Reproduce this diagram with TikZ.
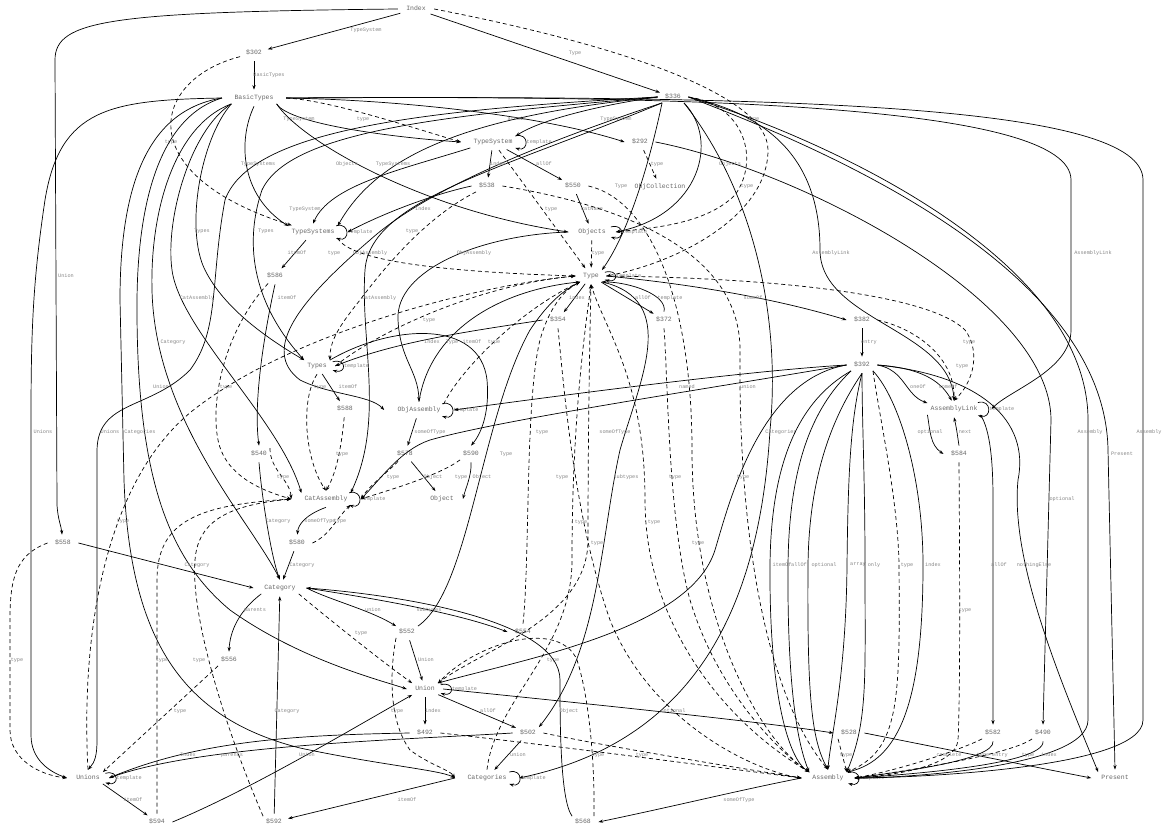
\documentclass[tikz,border=0pt]{standalone}
\usepackage{fontspec}
\setmonofont{Liberation Mono}
\usepackage{tikz}
\usetikzlibrary{arrows.meta,shapes.geometric}
\definecolor{nodetxt}{RGB}{105,105,105}
\definecolor{lbltxt}{RGB}{135,135,135}

\begin{document}
\begin{tikzpicture}[x=1pt,y=-1pt,
  nd/.style={ellipse,inner xsep=3pt,inner ysep=2.5pt,text height=5pt,text depth=1.5pt,
    text=nodetxt,font=\fontsize{6.5}{7}\selectfont\ttfamily},
  lbl/.style={inner sep=0.5pt,text=lbltxt,font=\fontsize{5.2}{6}\selectfont\ttfamily},
  fld/.style={-{Stealth[length=4.5pt,width=3.2pt]},line width=0.7pt},
  tyl/.style={fld,dash pattern=on 4pt off 3pt}]

\fill[white] (0,0) rectangle (1166,826);
\useasboundingbox (0,0) rectangle (1166,826);

% nodes, rank by rank
\node[nd] (Index) at (416,9) {Index};
\node[nd] (r302) at (254,53) {\$302};
\node[nd] (BasicTypes) at (254,98) {BasicTypes};
\node[nd] (r336) at (673,97) {\$336};
\node[nd] (TypeSystem) at (493,142) {TypeSystem};
\node[nd] (r292) at (640,142) {\$292};
\node[nd] (ObjCollection) at (660,187) {ObjCollection};
\node[nd] (r538) at (487,186) {\$538};
\node[nd] (r550) at (573,186) {\$550};
\node[nd] (TypeSystems) at (313,232) {TypeSystems};
\node[nd] (Objects) at (592,232) {Objects};
\node[nd] (r586) at (275,276) {\$586};
\node[nd] (Type) at (591,276) {Type};
\node[nd] (r354) at (558,320) {\$354};
\node[nd] (r372) at (664,320) {\$372};
\node[nd] (r382) at (862,320) {\$382};
\node[nd] (Types) at (317,366) {Types};
\node[nd] (r392) at (862,365) {\$392};
\node[nd] (r588) at (345,409) {\$588};
\node[nd] (ObjAssembly) at (419,410) {ObjAssembly};
\node[nd] (AssemblyLink) at (954,409) {AssemblyLink};
\node[nd] (r540) at (259,454) {\$540};
\node[nd] (r578) at (405,454) {\$578};
\node[nd] (r590) at (471,454) {\$590};
\node[nd] (r584) at (959,454) {\$584};
\node[nd] (CatAssembly) at (326,499) {CatAssembly};
\node[nd] (Object) at (442,499) {Object};
\node[nd] (r558) at (63,543) {\$558};
\node[nd] (r580) at (297,543) {\$580};
\node[nd] (Category) at (280,588) {Category};
\node[nd] (r552) at (407,632) {\$552};
\node[nd] (r554) at (523,632) {\$554};
\node[nd] (r556) at (229,660) {\$556};
\node[nd] (Union) at (425,689) {Union};
\node[nd] (r492) at (425,733) {\$492};
\node[nd] (r502) at (528,733) {\$502};
\node[nd] (r528) at (849,733) {\$528};
\node[nd] (r582) at (993,733) {\$582};
\node[nd] (r490) at (1043,733) {\$490};
\node[nd] (Unions) at (88,778) {Unions};
\node[nd] (Categories) at (487,778) {Categories};
\node[nd] (Assembly) at (828,778) {Assembly};
\node[nd] (Present) at (1115,778) {Present};
\node[nd] (r594) at (157,822) {\$594};
\node[nd] (r592) at (274,822) {\$592};
\node[nd] (r568) at (583,822) {\$568};

% template loops
\foreach \n in {TypeSystem,TypeSystems,Objects,Type,Types,ObjAssembly,AssemblyLink,CatAssembly,Union,Unions,Categories,Assembly}
  \draw[fld] (\n.15) .. controls +(14,-4) and +(14,4) .. (\n.345) node[lbl,pos=.5,anchor=west] {template};

% Index
\draw[fld] (Index) -- (r302) node[lbl] at (366,30) {TypeSystem};
\draw[fld] (Index) -- (r336) node[lbl] at (575,53) {Type};
\draw[fld] (Index.west) .. controls (110,12) and (55,20) .. (55,60) -- (57,505) .. controls (58,520) and (61,525) .. (r558) node[lbl] at (66,276) {Union};
\draw[tyl] (Index.east) .. controls (620,45) and (768,95) .. (768,150) .. controls (768,215) and (680,262) .. (Type.east) node[lbl] at (753,119) {type};

% $302 and BasicTypes
\draw[fld] (r302) -- (BasicTypes) node[lbl] at (269,75) {BasicTypes};
\draw[tyl] (r302) .. controls (150,80) and (130,175) .. (TypeSystems) node[lbl] at (171,142) {type};
\draw[fld] (BasicTypes.south east) .. controls (290,125) and (400,138) .. (TypeSystem.west) node[lbl] at (299,119) {TypeSystem};
\draw[tyl] (BasicTypes.east) .. controls (330,100) and (420,130) .. (TypeSystem.west) node[lbl] at (363,119) {type};
\draw[fld] (BasicTypes.east) .. controls (400,100) and (540,115) .. (r292.west) node[lbl] at (517,119) {atomic};
\draw[fld] (BasicTypes.south) .. controls (238,140) and (240,195) .. (TypeSystems.north west) node[lbl] at (258,164) {TypeSystems};
\draw[fld] (BasicTypes.south east) .. controls (300,140) and (420,210) .. (Objects.west) node[lbl] at (347,164) {Objects};
\draw[fld] (BasicTypes.south west) .. controls (200,140) and (185,230) .. (205,270) .. controls (225,310) and (270,340) .. (Types.north west) node[lbl] at (202,231) {Types};
\draw[fld] (BasicTypes.south west) .. controls (190,130) and (165,220) .. (172,270) .. controls (180,330) and (280,420) .. (CatAssembly.north west) node[lbl] at (197,298) {CatAssembly};
\draw[fld] (BasicTypes.south west) .. controls (175,125) and (150,210) .. (152,290) .. controls (155,420) and (250,520) .. (Category.north) node[lbl] at (173,342) {Category};
\draw[fld] (BasicTypes.west) .. controls (165,115) and (138,190) .. (137,300) .. controls (136,480) and (170,560) .. (230,610) .. controls (300,660) and (380,680) .. (Union.west) node[lbl] at (161,387) {Union};
\draw[fld] (BasicTypes.west) .. controls (150,110) and (120,180) .. (120,300) -- (124,480) .. controls (130,650) and (190,720) .. (300,748) .. controls (380,765) and (440,770) .. (Categories.west) node[lbl] at (140,432) {Categories};
\draw[fld] (BasicTypes.west) .. controls (110,100) and (60,108) .. (45,200) .. controls (33,280) and (31,330) .. (31,420) -- (31,735) .. controls (31,760) and (50,772) .. (Unions.west) node[lbl] at (43,432) {Unions};
\draw[fld] (BasicTypes.east) .. controls (700,95) and (1071,105) .. (1071,180) -- (1071,330) .. controls (1071,370) and (1010,390) .. (AssemblyLink.east) node[lbl] at (1093,253) {AssemblyLink};
\draw[fld] (BasicTypes.east) .. controls (800,95) and (1143,105) .. (1143,180) -- (1143,720) .. controls (1143,770) and (900,778) .. (Assembly.east) node[lbl] at (1149,432) {Assembly};

% $336
\draw[fld] (r336.west) .. controls (600,105) and (540,120) .. (TypeSystem.north east) node[lbl] at (616,119) {TypeSystem};
\draw[fld] (r336.west) .. controls (480,115) and (380,150) .. (TypeSystems.north east) node[lbl] at (393,164) {TypeSystems};
\draw[fld] (r336.west) .. controls (450,115) and (290,130) .. (262,190) .. controls (245,240) and (250,300) .. (Types.north west) node[lbl] at (266,231) {Types};
\draw[fld] (r336.south east) .. controls (720,140) and (700,215) .. (Objects.east) node[lbl] at (730,164) {Objects};
\draw[fld] (r336.south west) .. controls (650,160) and (630,230) .. (Type.north east) node[lbl] at (621,186) {Type};
\draw[fld] (r336.south west) .. controls (520,150) and (420,195) .. (370,240) .. controls (300,300) and (260,350) .. (300,380) .. controls (330,395) and (370,395) .. (ObjAssembly.west) node[lbl] at (370,253) {ObjAssembly};
\draw[fld] (r336.south west) .. controls (500,170) and (370,200) .. (365,270) .. controls (360,340) and (385,420) .. (CatAssembly.north east) node[lbl] at (379,298) {CatAssembly};
\draw[fld] (r336.west) .. controls (420,110) and (250,130) .. (225,200) .. controls (210,280) and (220,330) .. (190,370) .. controls (150,410) and (98,400) .. (97,450) -- (97,740) .. controls (97,755) and (95,762) .. (Unions.north) node[lbl] at (110,432) {Unions};
\draw[fld] (r336.south east) .. controls (760,200) and (780,330) .. (770,430) .. controls (760,600) and (700,740) .. (Categories.east) node[lbl] at (781,432) {Categories};
\draw[fld] (r336.east) .. controls (770,115) and (820,160) .. (820,250) .. controls (820,320) and (950,330) .. (AssemblyLink.north) node[lbl] at (831,253) {AssemblyLink};
\draw[fld] (r336.east) .. controls (800,130) and (1088,250) .. (1088,420) -- (1088,720) .. controls (1088,768) and (900,778) .. (Assembly.east) node[lbl] at (1090,432) {Assembly};
\draw[fld] (r336.east) .. controls (800,140) and (1105,260) .. (1108,450) -- (Present.north) node[lbl] at (1122,454) {Present};
\draw[tyl] (r336.east) .. controls (745,105) and (760,160) .. (735,195) .. controls (705,225) and (650,228) .. (Objects.east) node[lbl] at (747,186) {type};

% TypeSystem, $292, $538, $550
\draw[fld] (TypeSystem) -- (r538) node[lbl] at (498,164) {index};
\draw[fld] (TypeSystem) -- (r550) node[lbl] at (544,164) {allOf};
\draw[tyl] (TypeSystem) -- (Type) node[lbl] at (551,209) {type};
\draw[fld] (TypeSystem.south west) .. controls (400,170) and (330,185) .. (TypeSystems.north) node[lbl] at (305,209) {TypeSystem};
\draw[tyl] (r292) -- (ObjCollection) node[lbl] at (657,164) {type};
\draw[fld] (r292.east) .. controls (800,170) and (1051,300) .. (1051,420) -- (r490.north) node[lbl] at (1062,499) {optional};
\draw[fld] (r550) -- (Objects) node[lbl] at (592,209) {catName};
\draw[fld] (r538.west) .. controls (430,195) and (380,215) .. (TypeSystems.east) node[lbl] at (423,209) {Index};
\draw[tyl] (r538.south west) .. controls (430,215) and (390,260) .. (360,300) .. controls (340,325) and (330,340) .. (Types.north east) node[lbl] at (412,231) {type};
\draw[tyl] (r538.east) .. controls (620,205) and (740,250) .. (740,350) .. controls (738,550) and (770,700) .. (Assembly.north) node[lbl] at (743,477) {type};
\draw[tyl] (r550.east) .. controls (650,200) and (692,300) .. (692,450) .. controls (692,620) and (760,740) .. (Assembly.north west) node[lbl] at (698,543) {type};

% TypeSystems, Objects
\draw[fld] (TypeSystems) -- (r586) node[lbl] at (297,253) {itemOf};
\draw[tyl] (TypeSystems.south east) .. controls (350,262) and (450,272) .. (Type.west) node[lbl] at (334,253) {type};
\draw[tyl] (Objects) -- (Type) node[lbl] at (598,253) {type};
\draw[fld] (Objects.west) .. controls (480,235) and (395,270) .. (398,320) .. controls (400,360) and (418,370) .. (ObjAssembly.north) node[lbl] at (474,253) {ObjAssembly};

% Type
\draw[fld] (Type) -- (r354) node[lbl] at (577,298) {index};
\draw[fld] (Type) -- (r372) node[lbl] at (643,298) {allOf};
\draw[fld] (r372.north) .. controls (668,295) and (630,282) .. (Type.south east) node[lbl] at (670,298) {template};
\draw[fld] (Type.east) .. controls (700,285) and (780,300) .. (r382.west) node[lbl] at (753,298) {someOf};
\draw[tyl] (Type.east) .. controls (780,278) and (930,295) .. (965,330) .. controls (980,350) and (975,380) .. (AssemblyLink.north) node[lbl] at (969,342) {type};
\draw[fld] (Type.south east) .. controls (680,300) and (640,380) .. (620,450) .. controls (600,540) and (600,650) .. (r502.north east) node[lbl] at (626,477) {subtypes};
\draw[tyl] (r372.south) .. controls (668,380) and (668,520) .. (690,600) .. controls (720,700) and (790,760) .. (Assembly.north west) node[lbl] at (675,477) {type};
\draw[fld] (r354.west) .. controls (480,330) and (400,340) .. (Types.east) node[lbl] at (432,342) {Index};
\draw[tyl] (r354.south) .. controls (565,400) and (575,520) .. (610,620) .. controls (650,720) and (750,770) .. (Assembly.west) node[lbl] at (562,477) {type};

% $382, $392, AssemblyLink
\draw[fld] (r382) -- (r392) node[lbl] at (869,342) {entry};
\draw[tyl] (r382.east) .. controls (920,330) and (955,360) .. (AssemblyLink.north) node[lbl] at (962,366) {type};
\draw[fld] (r392.east) .. controls (905,370) and (905,395) .. (AssemblyLink.north west) node[lbl] at (918,387) {oneOf};
\draw[fld] (r392.east) .. controls (920,368) and (940,380) .. (AssemblyLink.105) node[lbl] at (948,387) {someOf};
\draw[fld] (r392.west) .. controls (760,370) and (600,390) .. (ObjAssembly.east) node[lbl] at (687,387) {named};
\draw[fld] (r392.west) .. controls (760,380) and (730,500) .. (715,550) .. controls (690,630) and (520,660) .. (Union.north east) node[lbl] at (748,387) {union};
\draw[fld] (r392.west) .. controls (700,390) and (500,420) .. (430,440) .. controls (400,450) and (380,480) .. (CatAssembly.east) node[lbl] at (615,432) {someOfType};
\draw[fld] (r392.east) .. controls (980,375) and (1030,420) .. (1018,480) .. controls (1010,560) and (1060,680) .. (Present.north west) node[lbl] at (1034,565) {nothingElse};
\draw[fld] (r392.south west) .. controls (800,400) and (771,460) .. (770,565) .. controls (769,700) and (790,760) .. (Assembly.north west) node[lbl] at (782,565) {itemOf};
\draw[fld] (r392.south west) .. controls (810,410) and (789,470) .. (788,565) .. controls (787,700) and (800,750) .. (Assembly.north west) node[lbl] at (799,565) {allOf};
\draw[fld] (r392.south) .. controls (830,420) and (809,480) .. (808,565) .. controls (807,700) and (812,740) .. (Assembly.north) node[lbl] at (824,565) {optional};
\draw[fld] (r392.south) .. controls (850,420) and (848,480) .. (847,565) .. controls (846,680) and (830,740) .. (Assembly.north) node[lbl] at (858,565) {array};
\draw[fld] (r392.south) .. controls (862,420) and (865,480) .. (865,565) .. controls (865,680) and (868,720) .. (Assembly.north east) node[lbl] at (874,565) {only};
\draw[tyl] (r392.south east) .. controls (880,420) and (898,500) .. (899,565) .. controls (900,700) and (900,750) .. (Assembly.north east) node[lbl] at (907,565) {type};
\draw[fld] (r392.south east) .. controls (900,400) and (923,480) .. (923,565) .. controls (923,700) and (900,760) .. (Assembly.north east) node[lbl] at (933,565) {index};
\draw[fld] (AssemblyLink.south west) .. controls (930,430) and (930,445) .. (r584.west) node[lbl] at (930,432) {optional};
\draw[fld] (r584.north) .. controls (958,440) and (957,430) .. (AssemblyLink.south) node[lbl] at (965,432) {next};
\draw[fld] (AssemblyLink.south east) .. controls (990,430) and (993,460) .. (993,500) -- (r582.north) node[lbl] at (999,565) {allOf};
\draw[tyl] (r584.south) .. controls (960,600) and (960,700) .. (958,740) .. controls (956,765) and (900,775) .. (Assembly.east) node[lbl] at (965,610) {type};

% Types, ObjAssembly and their records
\draw[fld] (Types) -- (r588) node[lbl] at (348,387) {itemOf};
\draw[tyl] (Types.south) .. controls (300,400) and (305,460) .. (CatAssembly.north) node[lbl] at (320,387) {type};
\draw[tyl] (Types.east) .. controls (380,330) and (480,285) .. (Type.west) node[lbl] at (429,320) {type};
\draw[tyl] (r588) .. controls (342,440) and (338,470) .. (CatAssembly.north) node[lbl] at (342,454) {type};
\draw[fld] (ObjAssembly) -- (r578) node[lbl] at (430,432) {someOfType};
\draw[fld] (ObjAssembly.north) .. controls (430,330) and (500,290) .. (Type.south west) node[lbl] at (452,342) {Type};
\draw[fld] (Types.north east) .. controls (390,325) and (480,318) .. (487,380) .. controls (490,415) and (480,435) .. (r590.north) node[lbl] at (472,342) {itemOf};
\draw[tyl] (ObjAssembly.north east) .. controls (460,370) and (520,310) .. (Type.south west) node[lbl] at (494,342) {type};
\draw[fld] (r578) -- (Object) node[lbl] at (433,477) {Object};
\draw[tyl] (r578) .. controls (390,470) and (370,485) .. (CatAssembly.east) node[lbl] at (393,477) {type};
\draw[fld] (r590.south) .. controls (472,475) and (465,490) .. (Object.east) node[lbl] at (482,477) {Object};
\draw[tyl] (r590.south west) .. controls (440,475) and (390,490) .. (CatAssembly.east) node[lbl] at (461,477) {type};

% CatAssembly and its neighbours
\draw[fld] (CatAssembly.south) .. controls (305,515) and (298,525) .. (r580) node[lbl] at (320,521) {someOfType};
\draw[tyl] (r580.east) .. controls (330,535) and (335,520) .. (CatAssembly.south east) node[lbl] at (340,521) {type};
\draw[fld] (r580) -- (Category) node[lbl] at (302,565) {Category};
\draw[fld] (r540.south) .. controls (262,500) and (272,560) .. (Category.north) node[lbl] at (278,521) {Category};
\draw[tyl] (r540.north east) .. controls (270,470) and (290,480) .. (CatAssembly.west) node[lbl] at (283,477) {type};
\draw[fld] (r586.south) .. controls (265,330) and (253,400) .. (r540.north) node[lbl] at (287,298) {itemOf};
\draw[tyl] (r586) .. controls (225,330) and (210,400) .. (218,440) .. controls (225,475) and (260,490) .. (CatAssembly.west) node[lbl] at (226,387) {type};

% $558, Category
\draw[fld] (r558.east) -- (Category.west) node[lbl] at (197,565) {Category};
\draw[tyl] (r558.west) .. controls (15,555) and (10,580) .. (10,620) -- (10,730) .. controls (10,760) and (40,775) .. (Unions.west) node[lbl] at (17,660) {type};
\draw[fld] (Category.south west) .. controls (240,610) and (230,630) .. (r556.north) node[lbl] at (255,610) {parents};
\draw[fld] (Category.east) .. controls (330,600) and (370,610) .. (r552.north west) node[lbl] at (373,610) {union};
\draw[fld] (Category.east) .. controls (350,595) and (450,610) .. (r554.west) node[lbl] at (429,610) {subtypes};
\draw[tyl] (Category.south east) .. controls (330,620) and (380,660) .. (Union.north west) node[lbl] at (361,633) {type};
\draw[tyl] (r556.south west) -- (Unions.north east) node[lbl] at (180,711) {type};

% $552, $554, Union
\draw[fld] (r552) -- (Union) node[lbl] at (426,660) {Union};
\draw[tyl] (r552.south west) .. controls (390,670) and (388,720) .. (410,750) .. controls (430,765) and (450,770) .. (Categories.west) node[lbl] at (397,711) {type};
\draw[fld] (r552.north east) .. controls (470,590) and (480,420) .. (530,330) .. controls (550,300) and (565,290) .. (Type.south west) node[lbl] at (506,454) {Type};
\draw[tyl] (r554.north) .. controls (530,560) and (525,400) .. (540,340) .. controls (550,305) and (565,290) .. (Type.south west) node[lbl] at (542,432) {type};
\draw[fld] (Union) -- (r492) node[lbl] at (433,711) {index};
\draw[fld] (Union) -- (r502) node[lbl] at (488,711) {allOf};
\draw[fld] (Union.east) .. controls (550,700) and (750,720) .. (r528.west) node[lbl] at (673,711) {optional};
\draw[tyl] (Union.north east) .. controls (480,650) and (588,620) .. (588,540) .. controls (588,420) and (590,330) .. (Type.south) node[lbl] at (597,543) {type};

% bottom records
\draw[fld] (r492.west) .. controls (300,735) and (200,740) .. (Unions.east) node[lbl] at (188,755) {Index};
\draw[tyl] (r492.east) .. controls (550,745) and (700,765) .. (Assembly.west) node[lbl] at (598,755) {type};
\draw[fld] (r502.west) .. controls (400,740) and (200,745) .. (Unions.east) node[lbl] at (232,755) {parents};
\draw[fld] (r502) -- (Categories) node[lbl] at (518,755) {union};
\draw[tyl] (r502.east) .. controls (600,745) and (720,765) .. (Assembly.west) node[lbl] at (642,755) {type};
\draw[tyl] (r528.south west) -- (Assembly.north east) node[lbl] at (846,755) {type};
\draw[fld] (r528.east) .. controls (950,750) and (1050,770) .. (Present.west) node[lbl] at (949,755) {complete};
\draw[tyl] (r582.south west) .. controls (960,750) and (900,770) .. (Assembly.east) node[lbl] at (983,755) {type};
\draw[fld] (r582.south) .. controls (995,760) and (900,772) .. (Assembly.east) node[lbl] at (1000,755) {entry};
\draw[tyl] (r490.south west) .. controls (1010,755) and (900,772) .. (Assembly.east) node[lbl] at (1028,755) {type};
\draw[fld] (r490.south) .. controls (1045,765) and (900,775) .. (Assembly.east) node[lbl] at (1049,755) {index};

% Unions, Categories, Assembly
\draw[fld] (Unions.south east) -- (r594) node[lbl] at (133,800) {itemOf};
\draw[tyl] (Unions.north) .. controls (80,620) and (110,470) .. (200,405) .. controls (300,330) and (480,285) .. (Type.west) node[lbl] at (123,521) {type};
\draw[fld] (Categories.west) -- (r592) node[lbl] at (407,800) {itemOf};
\draw[tyl] (Categories.north) .. controls (495,700) and (572,650) .. (572,560) .. controls (572,420) and (585,330) .. (Type.south) node[lbl] at (581,522) {type};
\draw[fld] (Assembly.west) .. controls (740,790) and (680,805) .. (r568.east) node[lbl] at (739,800) {someOfType};
\draw[tyl] (Assembly.north west) .. controls (720,720) and (645,620) .. (645,500) .. controls (645,380) and (605,330) .. (Type.south) node[lbl] at (654,522) {type};
\draw[tyl] (r568.north east) .. controls (595,770) and (590,700) .. (577,660) .. controls (560,620) and (480,640) .. (Union.north east) node[lbl] at (553,660) {type};
\draw[fld] (r568.north west) .. controls (560,800) and (560,720) .. (560,680) .. controls (560,620) and (400,595) .. (Category.east) node[lbl] at (569,711) {Object};
\draw[fld] (r594.east) .. controls (250,790) and (350,730) .. (Union.south west) node[lbl] at (307,755) {Union};
\draw[tyl] (r594.north) -- (157,580) .. controls (157,520) and (200,505) .. (CatAssembly.west) node[lbl] at (162,660) {type};
\draw[fld] (r592) -- (Category) node[lbl] at (287,711) {Category};
\draw[tyl] (r592.north west) .. controls (230,740) and (190,620) .. (195,560) .. controls (198,520) and (230,505) .. (CatAssembly.west) node[lbl] at (199,660) {type};
\end{tikzpicture}
\end{document}
